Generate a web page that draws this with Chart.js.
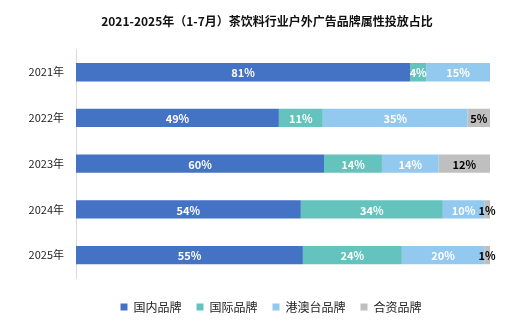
<!DOCTYPE html>
<html>
<head>
<meta charset="utf-8">
<script src="https://cdn.jsdelivr.net/npm/chart.js@4.4.0/dist/chart.umd.min.js"></script>
<style>
  html, body { margin: 0; padding: 0; background: #fff; }
  #wrap { width: 526px; height: 333px; }
</style>
</head>
<body>
<div id="wrap"><canvas id="chart" width="526" height="333"></canvas></div>
<script>
    // categories
    var years = ['2021年', '2022年', '2023年', '2024年', '2025年'];
    var seriesNames = ['国内品牌', '国际品牌', '港澳台品牌', '合资品牌'];
    // series values (percent)
    var domestic = [80.7, 49.0, 59.9, 54.3, 54.8];
    var international = [3.9, 10.6, 14.0, 34.3, 23.9];
    var hkMacauTw = [15.4, 35.0, 13.7, 10.0, 19.9];
    var jointVenture = [0, 5.4, 12.4, 1.4, 1.4];
    var colors = ['#4472C4', '#65C3BD', '#93C9EE', '#BFBFBF'];
    var labelColors = ['#ffffff', '#ffffff', '#ffffff', '#000000'];

    var cjkFont = "'Noto Sans CJK SC', 'Noto Sans', sans-serif";

    // draws percent labels in the middle of each segment
    var segmentLabels = {
        id: 'segmentLabels',
        afterDatasetsDraw: function(chart) {
            var ctx = chart.ctx;
            ctx.save();
            ctx.font = 'bold 11px ' + cjkFont;
            ctx.textAlign = 'center';
            ctx.textBaseline = 'middle';
            chart.data.datasets.forEach(function(ds, di) {
                var meta = chart.getDatasetMeta(di);
                meta.data.forEach(function(bar, i) {
                    var v = ds.data[i];
                    if (!v) return;
                    ctx.fillStyle = labelColors[di];
                    ctx.fillText(Math.round(v) + '%', (bar.x + bar.base) / 2, bar.y + 1);
                });
            });
            ctx.restore();
        }
    };

    // nudge title and legend a bit right, like the original
    var shiftBlocks = {
        id: 'shiftBlocks',
        afterLayout: function(chart) {
            if (chart.titleBlock) { chart.titleBlock.left += 9; chart.titleBlock.right += 9; }
            if (chart.legend) { chart.legend.left += 13; chart.legend.right += 13; }
        }
    };

    var datasets = [domestic, international, hkMacauTw, jointVenture].map(function(vals, i) {
        return {
            label: seriesNames[i],
            data: vals,
            backgroundColor: colors[i],
            borderWidth: 0,
            categoryPercentage: 1,
            barPercentage: 0.4
        };
    });

    new Chart(document.getElementById('chart'), {
        type: 'bar',
        data: { labels: years, datasets: datasets },
        options: {
            indexAxis: 'y',
            responsive: false,
            animation: false,
            layout: { padding: { left: 26, right: 36, top: 0, bottom: 10 } },
            scales: {
                x: {
                    stacked: true,
                    min: 0,
                    max: 100,
                    grid: { display: false },
                    border: { display: false },
                    ticks: { display: false },
                    afterFit: function(scale) { scale.height = 8; }
                },
                y: {
                    stacked: true,
                    grid: { display: false },
                    border: { display: true, color: '#d9d9d9', width: 1 },
                    ticks: {
                        color: '#222',
                        padding: 4,
                        font: { family: cjkFont, size: 11 }
                    },
                    afterFit: function(scale) { scale.width = 50; }
                }
            },
            plugins: {
                title: {
                    display: true,
                    text: '2021-2025年（1-7月）茶饮料行业户外广告品牌属性投放占比',
                    color: '#111',
                    font: { family: cjkFont, size: 12, weight: 'bold' },
                    padding: { top: 14, bottom: 21 }
                },
                legend: {
                    position: 'bottom',
                    labels: {
                        boxWidth: 7,
                        boxHeight: 7,
                        padding: 15,
                        color: '#222',
                        font: { family: cjkFont, size: 12 }
                    }
                },
                tooltip: { enabled: false }
            }
        },
        plugins: [segmentLabels, shiftBlocks]
    });
</script>
</body>
</html>
